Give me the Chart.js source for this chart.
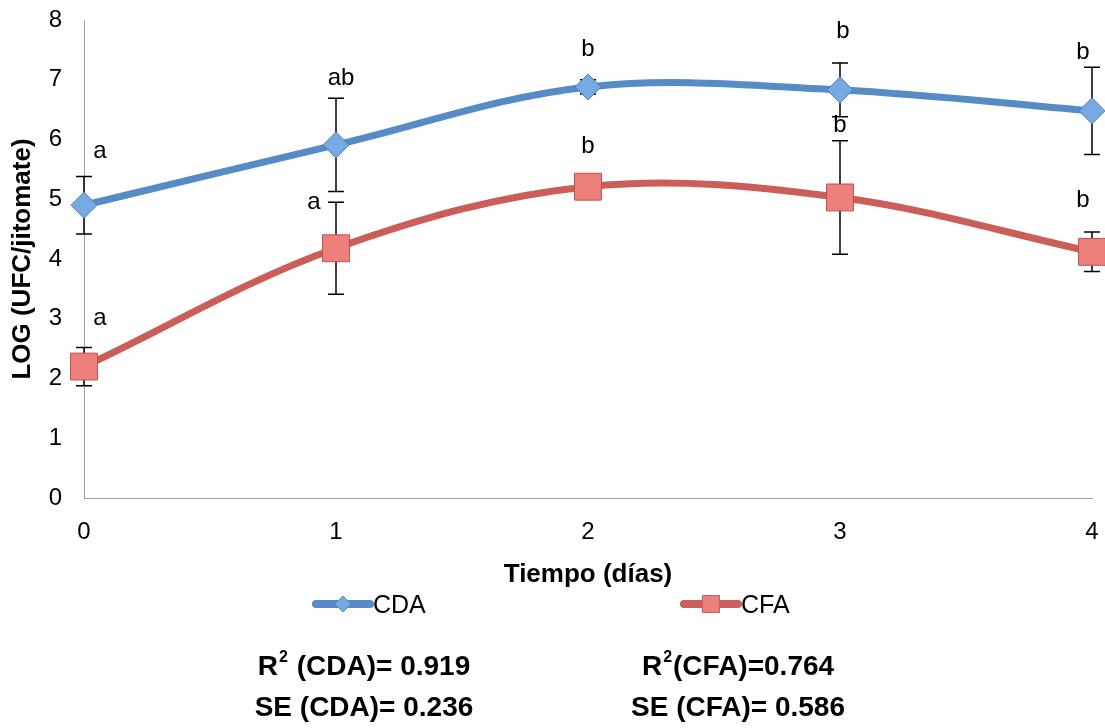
<!DOCTYPE html>
<html>
<head>
<meta charset="utf-8">
<script src="https://cdn.jsdelivr.net/npm/chart.js@4"></script>
<style>
  html, body { margin: 0; padding: 0; background: #fff; }
  #wrap { width: 1105px; height: 728px; }
</style>
</head>
<body>
<div id="wrap"><canvas id="conteoChart" width="1105" height="728"></canvas></div>
<script>
/* Datos: LOG (UFC/jitomate) por dia */
const dias = [0, 1, 2, 3, 4];
const cdaMedia = [4.90, 5.91, 6.88, 6.83, 6.48];
const cdaError = [0.48, 0.78, 0.12, 0.45, 0.73];
const cdaLetras = ['a', 'ab', 'b', 'b', 'b'];
const cfaMedia = [2.20, 4.18, 5.21, 5.03, 4.12];
const cfaError = [0.32, 0.77, 0.05, 0.95, 0.33];
const cfaLetras = ['a', 'a', 'b', 'b', 'b'];
const yTicks = [0, 1, 2, 3, 4, 5, 6, 7, 8];
const estadisticas = [
  ['R\u00b2 (CDA)= 0.919', 'R\u00b2(CFA)=0.764'],
  ['SE (CDA)= 0.236', 'SE (CFA)= 0.586']
];

const azul = 'rgb(86, 139, 198)';
const rojo = 'rgb(203, 94, 89)';
const fuente = '"Liberation Sans", Arial, Helvetica, sans-serif';

// pequeños ajustes de donde va cada letra (px) respecto a la punta de la barra de error
const ajusteCDA = [[16, -25], [5, -20], [0, -30], [3, -32], [-9, -15]];
const ajusteCFA = [[16, -29], [-22, 0], [0, -37], [0, -15], [-9, -32]];

/* barras de error + letras */
const erroresPlugin = {
  id: 'errores',
  beforeDatasetsDraw(chart) {
    const ctx = chart.ctx, x = chart.scales.x, y = chart.scales.y;
    ctx.save();
    ctx.strokeStyle = '#000';
    ctx.lineWidth = 1.5;
    [[cdaMedia, cdaError], [cfaMedia, cfaError]].forEach(([m, e]) => {
      dias.forEach((d, i) => {
        const px = x.getPixelForValue(d);
        const top = y.getPixelForValue(m[i] + e[i]);
        const bot = y.getPixelForValue(m[i] - e[i]);
        ctx.beginPath();
        ctx.moveTo(px, top); ctx.lineTo(px, bot);
        ctx.moveTo(px - 8, top); ctx.lineTo(px + 8, top);
        ctx.moveTo(px - 8, bot); ctx.lineTo(px + 8, bot);
        ctx.stroke();
      });
    });
    ctx.restore();
  },
  afterDatasetsDraw(chart) {
    const ctx = chart.ctx, x = chart.scales.x, y = chart.scales.y;
    ctx.save();
    ctx.fillStyle = '#000';
    ctx.font = '24px ' + fuente;
    ctx.textAlign = 'center';
    ctx.textBaseline = 'middle';
    [[cdaMedia, cdaError, cdaLetras, ajusteCDA], [cfaMedia, cfaError, cfaLetras, ajusteCFA]].forEach(([m, e, l, a]) => {
      dias.forEach((d, i) => {
        const px = x.getPixelForValue(d) + a[i][0];
        const py = y.getPixelForValue(m[i] + e[i]) + a[i][1];
        ctx.fillText(l[i], px, py);
      });
    });
    ctx.restore();
  },
  afterDraw(chart) {
    const ctx = chart.ctx, area = chart.chartArea;
    ctx.save();
    ctx.fillStyle = '#000';
    // titulo eje y
    ctx.font = 'bold 26px ' + fuente;
    ctx.textAlign = 'center';
    ctx.textBaseline = 'middle';
    ctx.translate(23, (area.top + area.bottom) / 2);
    ctx.rotate(-Math.PI / 2);
    ctx.fillText('LOG (UFC/jitomate)', 0, 0);
    ctx.setTransform(1, 0, 0, 1, 0, 0);
    // titulo eje x
    ctx.font = 'bold 26px ' + fuente;
    ctx.fillText('Tiempo (días)', (area.left + area.right) / 2, 575);

    // leyenda
    const items = [
      { txt: 'CDA', color: azul, x: 312, estilo: 'rectRot', r: 8, fill: 'rgb(120, 170, 226)' },
      { txt: 'CFA', color: rojo, x: 680, estilo: 'rect', r: 12, fill: 'rgb(238, 128, 124)' }
    ];
    items.forEach(it => {
      const yl = 604;
      ctx.strokeStyle = it.color;
      ctx.lineWidth = 8;
      ctx.lineCap = 'round';
      ctx.beginPath();
      ctx.moveTo(it.x + 4, yl); ctx.lineTo(it.x + 58, yl);
      ctx.stroke();
      ctx.lineCap = 'butt';
      ctx.fillStyle = it.fill;
      ctx.strokeStyle = it.color;
      ctx.lineWidth = 1;
      Chart.helpers.drawPoint(ctx, { pointStyle: it.estilo, radius: it.r, borderWidth: 1 }, it.x + 31, yl);
      ctx.fillStyle = '#000';
      ctx.font = '25px ' + fuente;
      ctx.textAlign = 'left';
      ctx.fillText(it.txt, it.x + 61, yl + 2);
    });

    // R2 y SE
    ctx.font = 'bold 28px ' + fuente;
    ctx.textAlign = 'center';
    ctx.textBaseline = 'alphabetic';
    const cols = [364, 738];
    const filas = [675, 716];
    estadisticas.forEach((fila, r) => {
      fila.forEach((t, c) => {
        if (t.indexOf('\u00b2') > -1) {
          // superindice del R2
          const partes = t.split('\u00b2');
          const w0 = ctx.measureText(partes[0]).width;
          ctx.font = 'bold 16px ' + fuente;
          const w1 = ctx.measureText('2').width + 2;
          ctx.font = 'bold 28px ' + fuente;
          const w2 = ctx.measureText(partes[1]).width;
          let x0 = cols[c] - (w0 + w1 + w2) / 2;
          ctx.textAlign = 'left';
          ctx.fillText(partes[0], x0, filas[r]);
          ctx.font = 'bold 16px ' + fuente;
          ctx.fillText('2', x0 + w0 + 1, filas[r] - 13);
          ctx.font = 'bold 28px ' + fuente;
          ctx.fillText(partes[1], x0 + w0 + w1, filas[r]);
          ctx.textAlign = 'center';
        } else {
          ctx.fillText(t, cols[c], filas[r]);
        }
      });
    });
    ctx.restore();
  }
};

const ctx = document.getElementById('conteoChart').getContext('2d');
const conteoChart = new Chart(ctx, {
  type: 'line',
  data: {
    datasets: [{
      label: 'CDA',
      data: dias.map((d, i) => ({ x: d, y: cdaMedia[i] })),
      borderColor: azul,
      borderWidth: 7,
      tension: 0.35,
      clip: false,
      pointStyle: 'rectRot',
      pointRadius: 13,
      pointBackgroundColor: 'rgb(120, 170, 226)',
      pointBorderColor: 'rgb(74, 126, 187)',
      pointBorderWidth: 1
    }, {
      label: 'CFA',
      data: dias.map((d, i) => ({ x: d, y: cfaMedia[i] })),
      borderColor: rojo,
      borderWidth: 7,
      tension: 0.35,
      clip: false,
      pointStyle: 'rect',
      pointRadius: 19,
      pointBackgroundColor: 'rgb(238, 128, 124)',
      pointBorderColor: 'rgb(192, 80, 77)',
      pointBorderWidth: 1
    }]
  },
  options: {
    responsive: false,
    animation: false,
    layout: { autoPadding: false, padding: { top: 20, right: 13, left: 0, bottom: 0 } },
    plugins: {
      legend: { display: false },
      tooltip: { enabled: false }
    },
    scales: {
      x: {
        type: 'linear',
        min: 0,
        max: 4,
        afterFit: s => { s.height = 230; s.paddingLeft = 0; s.paddingRight = 0; },
        afterBuildTicks: s => { s.ticks = dias.map(v => ({ value: v })); },
        grid: { display: false, drawTicks: false },
        border: { color: '#a0a0a0', width: 1 },
        ticks: { color: '#000', font: { size: 24, family: fuente }, padding: 20 }
      },
      y: {
        min: 0,
        max: 8,
        afterFit: s => { s.width = 84; s.paddingTop = 0; s.paddingBottom = 0; },
        afterBuildTicks: s => { s.ticks = yTicks.map(v => ({ value: v })); },
        grid: { display: false, drawTicks: false },
        border: { color: '#a0a0a0', width: 1 },
        ticks: { color: '#000', font: { size: 24, family: fuente }, padding: 22 }
      }
    }
  },
  plugins: [erroresPlugin]
});
</script>
</body>
</html>
